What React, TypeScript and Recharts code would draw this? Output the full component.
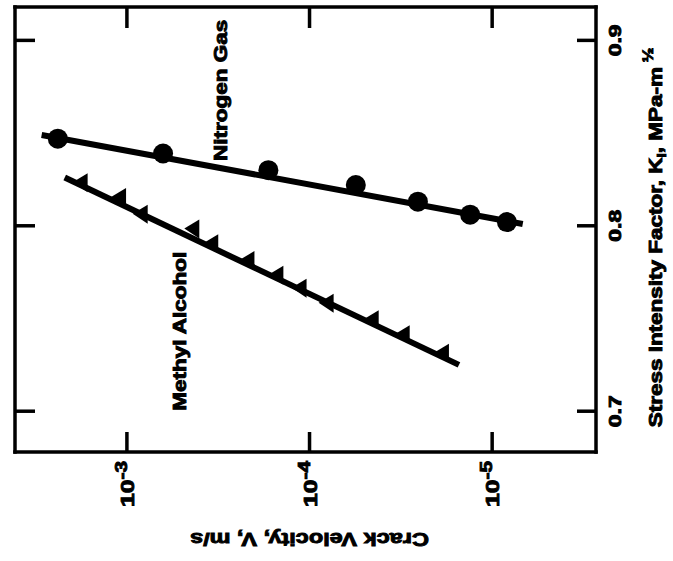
import React from 'react';
import { ScatterChart, Scatter, XAxis, YAxis, ReferenceDot, Label } from 'recharts';

// crack velocity V (m/s), log axis, reversed
const V_TICKS = [1e-3, 1e-4, 1e-5];
const V_DOMAIN = [2.7e-6, 4.1e-3];
// stress intensity factor K_I (MPa-m^1/2)
const K_TICKS = [0.7, 0.8, 0.9];
const K_DOMAIN = [0.678, 0.918];

// nitrogen gas
const N2_V = [2.39e-3, 6.34e-4, 1.68e-4, 5.58e-5, 2.55e-5, 1.32e-5, 8.3e-6];
const N2_K = [0.847, 0.839, 0.83, 0.822, 0.813, 0.806, 0.802];
const N2_FIT_V = [2.93e-3, 6.8e-6];
const N2_FIT_K = [0.849, 0.801];

// methyl alcohol
const MEOH_V = [1.77e-3, 1.09e-3, 8.3e-4, 4.33e-4, 3.41e-4, 2.16e-4, 1.5e-4, 1.12e-4, 7.96e-5, 4.51e-5, 3.05e-5, 1.86e-5];
const MEOH_K = [0.823, 0.815, 0.806, 0.798, 0.79, 0.781, 0.773, 0.766, 0.758, 0.749, 0.741, 0.731];
const MEOH_FIT_V = [2.19e-3, 1.52e-5];
const MEOH_FIT_K = [0.826, 0.725];

const FONT = '"Liberation Sans", Arial, Helvetica, sans-serif';
const INK = '#000';

const toPoints = (vs: number[], ks: number[]) => vs.map((v, i) => ({ v, k: ks[i] }));

const n2 = toPoints(N2_V, N2_K);
const n2Fit = toPoints(N2_FIT_V, N2_FIT_K);
const meoh = toPoints(MEOH_V, MEOH_K);
const meohFit = toPoints(MEOH_FIT_V, MEOH_FIT_K);

const axisLine = { stroke: INK, strokeWidth: 3.5, strokeLinecap: 'square' as const };

// heavy scanned lettering
const textStyle = {
  fontWeight: 'bold' as const,
  fontFamily: FONT,
  fill: INK,
  stroke: INK,
  strokeWidth: 0.9,
};

const BottomTick = (p: any) => {
  const { x, y, payload } = p;
  const exp = Math.round(Math.log10(payload.value));
  return (
    <g>
      <line x1={x} y1={y} x2={x} y2={y - 20} stroke={INK} strokeWidth={3.5} />
      <text transform={`translate(${x + 7},${y + 55}) rotate(-90) scale(1.3,1)`} fontSize={19} {...textStyle}>
        10<tspan fontSize={16} dy={-7}>{exp}</tspan>
      </text>
    </g>
  );
};

const TopTick = (p: any) => (
  <line x1={p.x} y1={p.y} x2={p.x} y2={p.y + 21} stroke={INK} strokeWidth={3.5} />
);

const LeftTick = (p: any) => (
  <line x1={p.x} y1={p.y} x2={p.x + 20} y2={p.y} stroke={INK} strokeWidth={3.5} />
);

const RightTick = (p: any) => {
  const { x, y, payload } = p;
  return (
    <g>
      <line x1={x} y1={y} x2={x - 19} y2={y} stroke={INK} strokeWidth={3.5} />
      <text
        transform={`translate(${x + 25},${y}) rotate(-90) scale(1.35,1)`}
        textAnchor="middle"
        fontSize={17}
        {...textStyle}
      >
        {Number(payload.value).toFixed(1)}
      </text>
    </g>
  );
};

const Circle = (p: any) => <circle cx={p.cx} cy={p.cy} r={10} fill={INK} />;

const Triangle = (p: any) => {
  const { cx, cy } = p;
  return <polygon points={`${cx - 9},${cy - 1} ${cx + 6},${cy - 10} ${cx + 6},${cy + 9}`} fill={INK} />;
};

const NoShape = () => <g />;

const rotatedLabel = (text: string) => (p: any) => {
  const vb = p.viewBox;
  const cx = vb.x + vb.width / 2;
  const cy = vb.y + vb.height / 2;
  return (
    <text
      transform={`translate(${cx + 4.5},${cy}) rotate(-90) scale(1.25,1)`}
      textAnchor="middle"
      fontSize={18}
      {...textStyle}
    >
      {text}
    </text>
  );
};

export default function App() {
  return (
    <div style={{ position: 'absolute', left: 0, top: 0, width: 673, height: 561, background: '#fff' }}>
      <ScatterChart width={673} height={561} margin={{ top: 6, right: 76, bottom: 108, left: 14 }}>
        <XAxis
          xAxisId="b"
          type="number"
          dataKey="v"
          scale="log"
          domain={V_DOMAIN}
          allowDataOverflow
          reversed
          ticks={V_TICKS}
          interval={0}
          orientation="bottom"
          height={1}
          tickSize={0}
          tickMargin={0}
          tickLine={false}
          axisLine={axisLine}
          tick={BottomTick}
        >
          <Label
            content={(p: any) => {
              const vb = p.viewBox;
              return (
                <text
                  transform={`translate(${vb.x + vb.width / 2 + 4},${vb.y + 81}) rotate(180) scale(1.27,1)`}
                  textAnchor="middle"
                  fontSize={18.5}
                  {...textStyle}
                >
                  Crack Velocity, V, m/s
                </text>
              );
            }}
          />
        </XAxis>
        <XAxis
          xAxisId="t"
          type="number"
          dataKey="v"
          scale="log"
          domain={V_DOMAIN}
          allowDataOverflow
          reversed
          ticks={V_TICKS}
          interval={0}
          orientation="top"
          height={1}
          tickSize={0}
          tickMargin={0}
          tickLine={false}
          axisLine={axisLine}
          tick={TopTick}
        />
        <YAxis
          yAxisId="r"
          type="number"
          dataKey="k"
          domain={K_DOMAIN}
          allowDataOverflow
          ticks={K_TICKS}
          interval={0}
          orientation="right"
          width={1}
          tickSize={0}
          tickMargin={0}
          tickLine={false}
          axisLine={axisLine}
          tick={RightTick}
        >
          <Label
            content={(p: any) => {
              const vb = p.viewBox;
              return (
                <text
                  transform={`translate(${vb.x + 66},${vb.y + vb.height / 2 + 8}) rotate(-90) scale(1.25,1)`}
                  textAnchor="middle"
                  fontSize={18}
                  {...textStyle}
                >
                  Stress Intensity Factor, K
                  <tspan fontSize={12} dy={4}>I</tspan>
                  <tspan fontSize={18} dy={-4}>, MPa-m</tspan>
                  <tspan fontSize={14} dy={-9}> ½</tspan>
                </text>
              );
            }}
          />
        </YAxis>
        <YAxis
          yAxisId="l"
          type="number"
          dataKey="k"
          domain={K_DOMAIN}
          allowDataOverflow
          ticks={K_TICKS}
          interval={0}
          orientation="left"
          width={1}
          tickSize={0}
          tickMargin={0}
          tickLine={false}
          axisLine={axisLine}
          tick={LeftTick}
        />

        <Scatter
          name="Nitrogen fit"
          data={n2Fit}
          xAxisId="b"
          yAxisId="r"
          line={{ stroke: INK, strokeWidth: 6 }}
          shape={NoShape}
          isAnimationActive={false}
        />
        <Scatter
          name="Methyl alcohol fit"
          data={meohFit}
          xAxisId="b"
          yAxisId="r"
          line={{ stroke: INK, strokeWidth: 6 }}
          shape={NoShape}
          isAnimationActive={false}
        />
        <Scatter name="Nitrogen Gas" data={n2} xAxisId="b" yAxisId="r" shape={Circle} isAnimationActive={false} />
        <Scatter name="Methyl Alcohol" data={meoh} xAxisId="b" yAxisId="r" shape={Triangle} isAnimationActive={false} />

        <ReferenceDot
          xAxisId="b"
          yAxisId="r"
          x={3.0e-4}
          y={0.873}
          r={1}
          fill="none"
          stroke="none"
          label={{ content: rotatedLabel('Nitrogen Gas') }}
        />
        <ReferenceDot
          xAxisId="b"
          yAxisId="r"
          x={5.05e-4}
          y={0.7431}
          r={1}
          fill="none"
          stroke="none"
          label={{ content: rotatedLabel('Methyl Alcohol') }}
        />
      </ScatterChart>
    </div>
  );
}
